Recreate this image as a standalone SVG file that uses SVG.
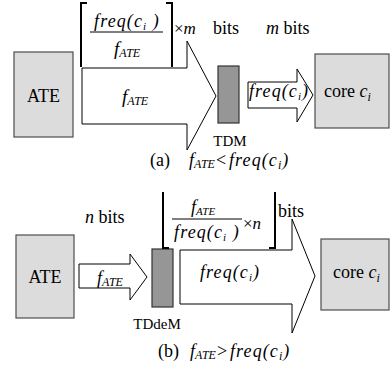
<svg xmlns="http://www.w3.org/2000/svg" width="391" height="367" viewBox="0 0 391 367">
<style>
text{font-family:"Liberation Serif","DejaVu Serif",serif;fill:#000}
.it{font-style:italic}
.fq{font-style:italic;letter-spacing:1.1px}
.box{fill:#dcdcdc;stroke:#4d4d4d;stroke-width:1.2}
.mux{fill:#969696;stroke:#333;stroke-width:1.2}
.arr{fill:#fff;stroke:#000;stroke-width:1}
.br{fill:none;stroke:#000;stroke-width:2}
.ln{stroke:#000;stroke-width:1}
</style>
<rect width="391" height="367" fill="#fff"/>

<!-- (a) -->
<g id="ate-a">
<rect class="box" x="14" y="52" width="59" height="85"/>
<text x="43.5" y="102" font-size="18" text-anchor="middle">ATE</text>
</g>
<g id="tdm">
<rect class="mux" x="218" y="66" width="21" height="57"/>
<text x="230" y="146" font-size="15" text-anchor="middle">TDM</text>
</g>
<g id="core-a">
<rect class="box" x="315" y="54" width="74" height="74"/>
<text x="324" y="97" font-size="18">core <tspan class="it">c</tspan><tspan class="it" font-size="12" dy="4">i</tspan></text>
</g>
<g id="connectors-a">
<path class="arr" d="M82,68 H187 V41 L216,96 L187,150 V124 H82 Z"/>
<text x="122" y="103" font-size="19" class="it">f<tspan font-size="12" dy="2">ATE</tspan></text>
<path class="arr" d="M248,82 H297 V69 L313,95 L297,122 V108 H248 Z"/>
<text x="249" y="97" font-size="18" class="fq">freq(c<tspan font-size="11" dy="3">i</tspan><tspan dy="-3">)</tspan></text>
</g>
<g id="label-a">
<path class="br" d="M87,3 H81 V67 M166,3 H172 V67"/>
<text x="127" y="27" font-size="18" class="fq" text-anchor="middle">freq(c<tspan font-size="11" dy="3">i</tspan><tspan dy="-3"> )</tspan></text>
<line class="ln" x1="90" y1="32" x2="163" y2="32"/>
<text x="114" y="55" font-size="19" class="it">f<tspan font-size="12" dy="2">ATE</tspan></text>
<text x="174" y="34" font-size="17">×<tspan class="it">m</tspan></text>
<text x="213" y="34" font-size="18">bits</text>
<text x="266" y="34" font-size="18"><tspan class="it">m</tspan> bits</text>
</g>
<text id="caption-a" y="166" font-size="18"><tspan x="150">(a)</tspan><tspan x="189" class="it">f</tspan><tspan class="it" font-size="12" dy="2">ATE</tspan><tspan x="216" dy="-2">&lt;</tspan><tspan x="229" class="fq">freq(c</tspan><tspan class="fq" font-size="12" dy="3">i</tspan><tspan class="fq" dy="-3">)</tspan></text>

<!-- (b) -->
<g id="ate-b">
<rect class="box" x="16" y="235" width="58" height="83"/>
<text x="45" y="283" font-size="18" text-anchor="middle">ATE</text>
</g>
<g id="tddem">
<rect class="mux" x="152" y="249" width="21" height="58"/>
<text x="157" y="329" font-size="15" text-anchor="middle">TDdeM</text>
</g>
<g id="core-b">
<rect class="box" x="321" y="239" width="68" height="71"/>
<text x="333" y="278" font-size="18">core <tspan class="it">c</tspan><tspan class="it" font-size="12" dy="4">i</tspan></text>
</g>
<g id="connectors-b">
<path class="arr" d="M79,264 H130 V254 L147,277 L130,300 V288 H79 Z"/>
<text x="97" y="284" font-size="18" class="it">f<tspan font-size="12" dy="2">ATE</tspan></text>
<path class="arr" d="M180,250 H292 V219 L315,276 L292,333 V304 H180 Z"/>
<text x="200" y="278" font-size="18" class="fq">freq(c<tspan font-size="11" dy="3">i</tspan><tspan dy="-3">)</tspan></text>
</g>
<g id="label-b">
<text x="85" y="223" font-size="18"><tspan class="it">n</tspan> bits</text>
<path class="br" d="M163,192 V248 H169 M275,192 V248 H269"/>
<text x="191" y="213" font-size="18" class="it">f<tspan font-size="11" dy="2">ATE</tspan></text>
<line class="ln" x1="172" y1="219" x2="242" y2="219"/>
<text x="207" y="238" font-size="18" class="fq" text-anchor="middle">freq(c<tspan font-size="11" dy="3">i</tspan><tspan dy="-3"> )</tspan></text>
<text x="243" y="229" font-size="17">×<tspan class="it">n</tspan></text>
<text x="278" y="217" font-size="18">bits</text>
</g>
<text id="caption-b" y="357" font-size="18"><tspan x="158">(b)</tspan><tspan x="190" class="it">f</tspan><tspan class="it" font-size="12" dy="2">ATE</tspan><tspan x="217" dy="-2">&gt;</tspan><tspan x="230" class="fq">freq(c</tspan><tspan class="fq" font-size="12" dy="3">i</tspan><tspan class="fq" dy="-3">)</tspan></text>
</svg>
